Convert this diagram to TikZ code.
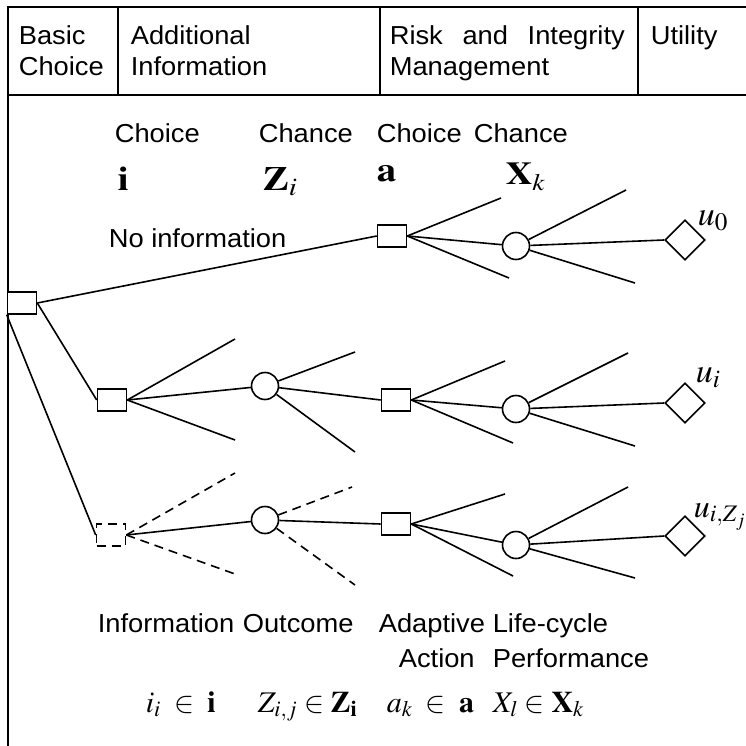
\documentclass[tikz,border=0pt]{standalone}
\usepackage{mathptmx}
\usepackage{fontspec}
\setmainfont{Liberation Sans}[FakeStretch=1.05]
\usetikzlibrary{shapes.geometric}
\newcommand{\fsz}[1]{\fontsize{#1}{#1}\selectfont}
\newcommand{\wide}[1]{\scalebox{1.15}[1]{#1}}
\begin{document}
\begin{tikzpicture}[x=1pt,y=-1pt,line width=1.6pt,
	choice/.style={draw,rectangle,minimum width=29,minimum height=22,inner sep=0,fill=white},
	chance/.style={draw,circle,minimum size=27,inner sep=0,fill=white},
	utility/.style={draw,diamond,minimum width=40,minimum height=40,inner sep=0,fill=white},
	dashline/.style={dash pattern=on 9pt off 6pt},
	lbl/.style={anchor=base west,inner sep=0,font=\fsz{26}},
	mlbl/.style={anchor=base west,inner sep=0,font=\fsz{30}}]
	\useasboundingbox (0,0) rectangle (746,746);

	% frame and header
	\draw (8,746)--(8,7)--(746,7);
	\draw (8,95)--(746,95);
	\draw (118,7)--(118,95);
	\draw (380,7)--(380,95);
	\draw (638,7)--(638,95);

	\node[lbl] (hb1) at (18,45) {Basic};
	\node[lbl] (hb2) at (18,76) {Choice};
	\node[lbl] (ha1) at (130,45) {Additional};
	\node[lbl] (ha2) at (130,76) {Information};
	\node[lbl] (hr1) at (389,45) {\makebox[235pt][s]{Risk and Integrity}};
	\node[lbl] (hr2) at (389,76) {Management};
	\node[lbl] (hu) at (650,45) {Utility};

	% column labels
	\node[lbl] (t1) at (114,143) {Choice};
	\node[lbl] (t2) at (258,143) {Chance};
	\node[lbl] (t3) at (376,143) {Choice};
	\node[lbl] (t4) at (473,143) {Chance};
	\node[mlbl,font=\fsz{34}] (m1) at (117,190) {\wide{$\mathbf{i}$}};
	\node[mlbl,font=\fsz{34}] (m2) at (262,190) {\wide{$\mathbf{Z}_i$}};
	\node[mlbl,font=\fsz{34}] (m3) at (376,182) {\wide{$\mathbf{a}$}};
	\node[mlbl,font=\fsz{32}] (m4) at (505,185) {\wide{$\mathbf{X}_k$}};
	\node[lbl] (noinf) at (108,247) {No information};

	% nodes
	\node[choice] (r) at (22,303) {};

	\node[choice] (a0) at (392,236) {};
	\node[chance] (x0) at (516,246) {};
	\node[utility] (u0) at (685,240) {};

	\node[choice] (b1) at (112,400) {};
	\node[chance] (z1) at (265,386) {};
	\node[choice] (a1) at (396,400) {};
	\node[chance] (x1) at (516,409) {};
	\node[utility] (u1) at (685,403) {};

	\node[choice,dashline] (b2) at (111,535) {};
	\node[chance] (z2) at (265,520) {};
	\node[choice] (a2) at (396,524) {};
	\node[chance] (x2) at (516,545) {};
	\node[utility] (u2) at (685,536) {};

	% branches
	\draw (r.east)--(a0.west);
	\draw (r.east)--(b1.west);
	\draw (r.south west)--(b2.west);

	\draw (a0.east)--(501,198);
	\draw (a0.east)--(x0);
	\draw (a0.east)--(509,278);
	\draw (x0)--(626,190);
	\draw (x0)--(u0.west);
	\draw (x0)--(635,283);

	\draw (b1.east)--(235,339);
	\draw (b1.east)--(z1);
	\draw (b1.east)--(235,440);
	\draw (z1)--(355,352);
	\draw (z1)--(a1.west);
	\draw (z1)--(355,452);
	\draw (a1.east)--(505,361);
	\draw (a1.east)--(x1);
	\draw (a1.east)--(513,443);
	\draw (x1)--(628,353);
	\draw (x1)--(u1.west);
	\draw (x1)--(635,446);

	\draw[dashline] (b2.east)--(235,473);
	\draw (b2.east)--(z2);
	\draw[dashline] (b2.east)--(235,574);
	\draw[dashline] (z2)--(352,487);
	\draw (z2)--(a2.west);
	\draw[dashline] (z2)--(355,585);
	\draw (a2.east)--(505,494);
	\draw (a2.east)--(x2);
	\draw (a2.east)--(513,576);
	\draw (x2)--(628,487);
	\draw (x2)--(u2.west);
	\draw (x2)--(635,578);

	% utilities
	\node[mlbl,font=\fsz{34}] (lu0) at (697,225) {$u_0$};
	\node[mlbl,font=\fsz{34}] (lu1) at (695,382) {$u_i$};
	\node[mlbl,font=\fsz{32}] (lu2) at (693,517) {$u_{i,Z_j}$};

	% bottom labels
	\node[lbl] (l1) at (97,632) {Information};
	\node[lbl] (l2) at (242,632) {Outcome};
	\node[lbl] (l3) at (378,632) {Adaptive};
	\node[lbl] (l3b) at (398,667) {Action};
	\node[lbl] (l4) at (492,632) {Life-cycle};
	\node[lbl] (l4b) at (492,667) {Performance};
	\node[mlbl] (e1) at (145,712) {$i_i\;\in\;\mathbf{i}$};
	\node[mlbl] (e2) at (257,712) {$Z_{i,j}\in\mathbf{Z}_{\mathbf{i}}$};
	\node[mlbl] (e3) at (386,712) {$a_k\;\in\;\mathbf{a}$};
	\node[mlbl] (e4) at (492,712) {$X_l\in\mathbf{X}_k$};
\end{tikzpicture}
\end{document}
